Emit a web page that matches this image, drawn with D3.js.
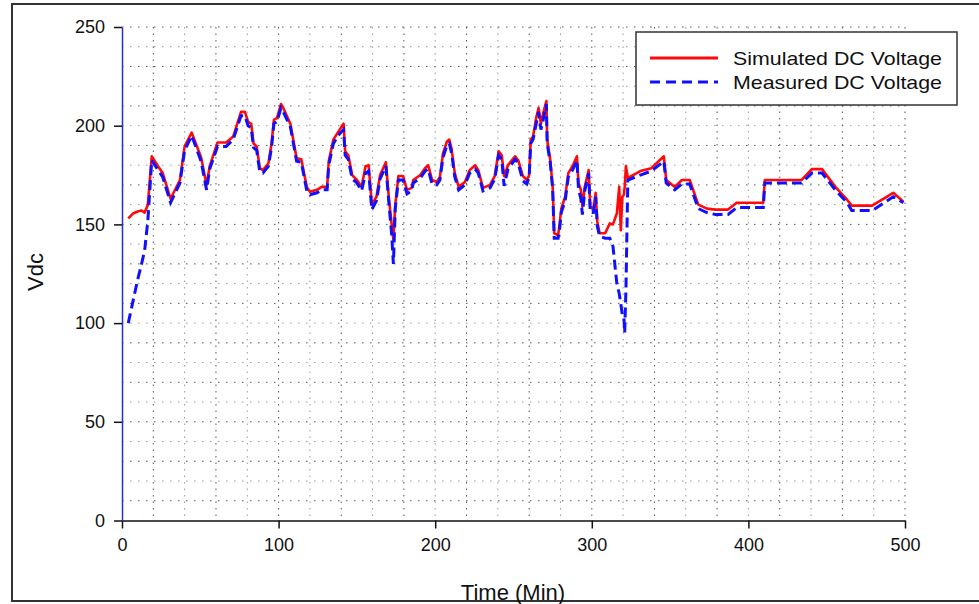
<!DOCTYPE html>
<html lang="en">
<head>
    <meta charset="UTF-8">
    <title>DC Voltage</title>
    <script src="https://cdn.jsdelivr.net/npm/d3@7/dist/d3.min.js"></script>
    <style>
        body { margin: 0; background: #fff; }
        text { font-family: "Liberation Sans", Arial, sans-serif; fill: #111; }
    </style>
</head>
<body>
<script>

    // time (min)
    var time = [4, 7, 10, 12.5, 14.5, 16.5, 19, 23, 26, 31, 37, 40, 44.5, 50.5, 54, 56, 61, 66.5, 71, 76,
        78.5, 80.5, 82.5, 84, 86, 88, 90, 93.5, 95.5, 97, 99, 101.5, 103, 107.5, 111.5, 114.5, 118, 120, 124.5, 127.5,
        131, 132, 135, 139, 141.5, 142.5, 144.5, 147, 150, 153, 155.5, 157.5, 159.5, 162.5, 164.8, 168.5, 170.5, 172.2, 173.3, 174.5,
        176.5, 179.5, 182, 185, 186, 190.5, 193.5, 195.5, 198, 201, 203, 205, 207.5, 209, 210.5, 212.5, 215, 219, 222, 225.5,
        227.5, 230.5, 235, 238, 240.5, 242.5, 244, 246.5, 251, 253, 256, 258.5, 260, 261, 262.5, 264.5, 266, 267.5, 269, 271,
        271.5, 273.5, 275, 276, 278.5, 279.5, 280.5, 283, 285, 288, 290.5, 291.5, 293, 294, 295.5, 298, 299, 301, 302.5, 303.5,
        305, 308.5, 311.5, 313.5, 316, 317.5, 318.5, 319.5, 320.5, 321, 321.8, 323, 331, 338, 346, 347.5, 353, 357.5, 362.5, 368,
        373.5, 379, 387, 392.5, 409.5, 410.5, 434, 440.5, 447, 455.5, 463, 466, 479, 492.5, 499];

    // simulated DC voltage
    var simulated = [153, 155.5, 156.5, 157, 156, 160, 184.5, 179.5, 176, 163, 172.5, 189.5, 196.5, 184, 170, 179.5, 191.5, 191.5, 194.5, 207,
        207, 202, 201, 191, 189.5, 178.5, 177.5, 181, 191, 203, 204, 211, 209, 201, 183.5, 183, 169, 166.5, 167.5, 169,
        169, 182, 193, 198, 201, 187, 185, 175, 172.5, 169, 179.5, 180, 160, 164, 175, 181.5, 162.5, 150, 142, 160,
        174.5, 174.5, 167.5, 168.5, 172.5, 175, 178.5, 180, 172.5, 171.5, 174, 186, 192, 193, 188, 176, 169, 171.5, 177.5, 180,
        177.5, 168.5, 170, 174.5, 187, 185, 174.5, 180, 184.5, 182.5, 174.5, 172.5, 175, 193, 194.5, 204, 209, 201, 206.5, 212.5,
        193, 182.5, 169, 145.5, 144.5, 150.5, 158, 164, 176, 180, 184.5, 171, 167.5, 159, 169, 177.5, 159, 158, 166, 151.5,
        145.5, 145.5, 150.5, 150, 155.5, 169, 147, 164, 165, 169, 179.5, 173.5, 177, 178.5, 184.5, 172.5, 169, 172.5, 172.5, 160,
        158, 157.5, 157.5, 161, 161, 172.5, 172.5, 178, 178, 169, 162.5, 159.5, 159.5, 166, 161.5];

    // measured DC voltage
    var measured = [100, 111, 122, 130, 137, 152, 182.5, 177.5, 174, 161, 171, 187.5, 195, 182, 167.5, 178, 189.5, 189.5, 193, 205,
        205, 200, 199, 189, 187.5, 176.5, 176, 179.5, 189, 201, 202, 209, 207, 199.5, 182, 181.5, 167, 165, 166, 167.5,
        167.5, 180, 191, 196, 198, 185, 183, 173, 171, 167, 176, 177, 157.5, 162, 173, 179.5, 160, 145, 130, 158,
        172.5, 172.5, 165.5, 167, 171, 173.5, 177, 178, 170.5, 170, 172.5, 184, 190, 191, 186, 174, 167.5, 170, 176, 178,
        176, 167, 168.5, 173, 185, 183, 169.5, 178, 183, 181, 172, 170.5, 174, 191, 193, 201, 207, 198, 203, 211,
        191, 181, 168, 143, 143, 148, 156, 162, 174, 178, 182.5, 168, 163, 155, 167, 176, 156, 156, 164, 149,
        144, 143, 143, 139, 120, 115, 110, 104, 103, 95, 117, 172.5, 175, 177, 182, 171, 167.5, 170.5, 170.5, 158,
        156, 155, 155, 158.5, 158.5, 171, 171, 176, 176, 167.5, 161, 157, 157, 164, 161];

    var xTicks = [0, 100, 200, 300, 400, 500];
    var yTicks = [0, 50, 100, 150, 200, 250];
    var seriesNames = ["Simulated DC Voltage", "Measured DC Voltage"];

    // 画布
    var width = 979;
    var height = 604;
    var svg = d3.select("body")
        .append("svg")
        .attr("width", width)
        .attr("height", height);

    svg.append("rect")
        .attr("width", width)
        .attr("height", height)
        .style("fill", "#fff");

    // outer frame
    svg.append("rect")
        .attr("x", 12)
        .attr("y", 4)
        .attr("width", 1000)
        .attr("height", 597)
        .style("fill", "none")
        .style("stroke", "#333")
        .style("stroke-width", 2);

    var x = d3.scaleLinear().domain([0, 500]).range([122, 905]);
    var y = d3.scaleLinear().domain([0, 250]).range([520.5, 27]);

    // 网格
    var grid = svg.append("g");
    grid.selectAll("line.h")
        .data(d3.range(10, 251, 10))
        .enter()
        .append("line")
        .attr("x1", x(0))
        .attr("x2", x(500))
        .attr("y1", function (d) { return y(d); })
        .attr("y2", function (d) { return y(d); })
        .style("stroke", function (d) { return d % 20 === 10 ? "#555" : "#999"; })
        .style("stroke-width", 1)
        .style("stroke-dasharray", "1.5,6.5");

    grid.selectAll("line.v")
        .data(d3.range(20, 501, 20))
        .enter()
        .append("line")
        .attr("x1", function (d) { return x(d); })
        .attr("x2", function (d) { return x(d); })
        .attr("y1", y(250))
        .attr("y2", y(0))
        .style("stroke", function (d) { return d % 40 === 20 ? "#555" : "#999"; })
        .style("stroke-width", 1)
        .style("stroke-dasharray", "1.5,5");

    // axes
    var xAxis = svg.append("g")
        .attr("transform", "translate(0," + y(0) + ")")
        .call(d3.axisBottom(x).tickValues(xTicks).tickSize(8).tickSizeOuter(0).tickPadding(10));
    xAxis.select(".domain").style("stroke", "#111").style("stroke-width", 1.5);
    xAxis.selectAll(".tick line").style("stroke", "#111").style("stroke-width", 1.5);
    xAxis.selectAll(".tick text")
        .style("font-size", "18px")
        .style("font-family", "Liberation Sans, Arial, sans-serif")
        .style("fill", "#111");

    var yAxis = svg.append("g")
        .attr("transform", "translate(" + x(0) + ",0)")
        .call(d3.axisLeft(y).tickValues(yTicks).tickSize(8).tickSizeOuter(0).tickPadding(9));
    yAxis.select(".domain").style("stroke", "#2a2ae0").style("stroke-width", 1.5);
    yAxis.selectAll(".tick line").style("stroke", "#111").style("stroke-width", 1.5);
    yAxis.selectAll(".tick text")
        .style("font-size", "18px")
        .style("font-family", "Liberation Sans, Arial, sans-serif")
        .style("fill", "#111");

    // axis titles
    svg.append("text")
        .attr("transform", "translate(43,272) rotate(-90)")
        .attr("text-anchor", "middle")
        .style("font-size", "22px")
        .text("Vdc");

    svg.append("text")
        .attr("x", 513)
        .attr("y", 600)
        .attr("text-anchor", "middle")
        .style("font-size", "22px")
        .text("Time (Min)");

    // lines
    var simLine = d3.line()
        .x(function (d, i) { return x(time[i]); })
        .y(function (d) { return y(d); });

    svg.append("path")
        .datum(simulated)
        .attr("d", simLine)
        .style("fill", "none")
        .style("stroke", "#ff0a0a")
        .style("stroke-width", 2.6)
        .style("stroke-linejoin", "round");

    svg.append("path")
        .datum(measured)
        .attr("d", simLine)
        .style("fill", "none")
        .style("stroke", "#1010ff")
        .style("stroke-width", 3)
        .style("stroke-dasharray", "10,5");

    // legend
    var legend = svg.append("g");
    legend.append("rect")
        .attr("x", 636)
        .attr("y", 32)
        .attr("width", 321)
        .attr("height", 73)
        .style("fill", "#fff")
        .style("stroke", "#333")
        .style("stroke-width", 1.5);

    var legendColors = ["#ff0a0a", "#1010ff"];
    var legendDash = [null, "10,6"];
    seriesNames.forEach(function (name, i) {
        var ly = 58 + i * 24;
        legend.append("line")
            .attr("x1", 650)
            .attr("x2", 718)
            .attr("y1", ly)
            .attr("y2", ly)
            .style("stroke", legendColors[i])
            .style("stroke-width", 3)
            .style("stroke-dasharray", legendDash[i]);
        legend.append("text")
            .attr("x", 733)
            .attr("y", ly + 7)
            .attr("textLength", 209)
            .attr("lengthAdjust", "spacingAndGlyphs")
            .style("font-size", "19px")
            .text(name);
    });

</script>
</body>
</html>
